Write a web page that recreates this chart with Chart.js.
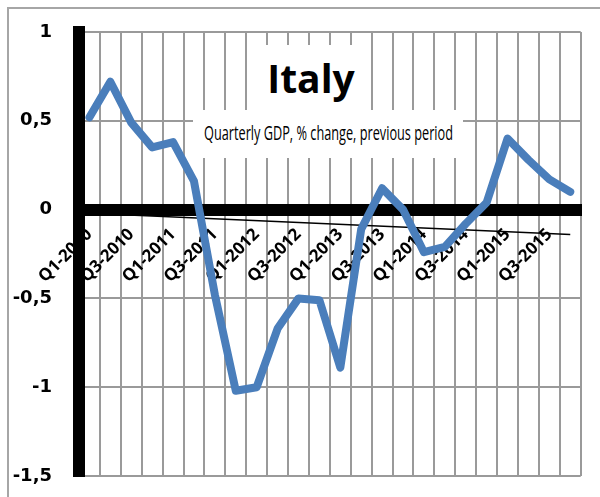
<html>
<head>
  <meta charset="utf-8">
  <title>Italy - Quarterly GDP</title>
  <script src="https://cdn.jsdelivr.net/npm/chart.js"></script>
  <style>
    html, body {
      margin: 0;
      padding: 0;
      background: white;
      overflow: hidden;
    }
    #wrap {
      position: relative;
      width: 600px;
      height: 497px;
    }
    #frame {
      position: absolute;
      left: 7px;
      top: 7px;
      width: 620px;
      height: 520px;
      border: 2px solid #a6a6a6;
    }
    canvas {
      position: absolute;
      left: 0;
      top: 0;
    }
    .box {
      position: absolute;
      background: white;
      white-space: nowrap;
    }
    #title {
      left: 256px;
      top: 45px;
      width: 110px;
      height: 65px;
      font-family: 'Open Sans', sans-serif;
      font-weight: bold;
      font-size: 39px;
      text-align: center;
      line-height: 65px;
    }
    #subtitle {
      left: 193px;
      top: 110px;
      width: 270px;
      height: 48px;
    }
    #subtitle span {
      position: absolute;
      left: 11px;
      top: 9px;
      font-family: 'Open Sans', sans-serif;
      font-size: 20px;
      transform-origin: 0 0;
    }
  </style>
</head>
<body>
<div id="wrap">
  <div id="frame"></div>
  <canvas id="chart" width="600" height="497"></canvas>
  <div class="box" id="title">Italy</div>
  <div class="box" id="subtitle"><span>Quarterly GDP, % change, previous period</span></div>
</div>

<script>
const quarters = [
  'Q1-2010', 'Q2-2010', 'Q3-2010', 'Q4-2010',
  'Q1-2011', 'Q2-2011', 'Q3-2011', 'Q4-2011',
  'Q1-2012', 'Q2-2012', 'Q3-2012', 'Q4-2012',
  'Q1-2013', 'Q2-2013', 'Q3-2013', 'Q4-2013',
  'Q1-2014', 'Q2-2014', 'Q3-2014', 'Q4-2014',
  'Q1-2015', 'Q2-2015', 'Q3-2015', 'Q4-2015'
];
const gdpChange = [
  0.52, 0.72, 0.49, 0.35,
  0.38, 0.16, -0.48, -1.02,
  -1.00, -0.67, -0.50, -0.51,
  -0.89, -0.11, 0.12, 0.00,
  -0.24, -0.21, -0.08, 0.04,
  0.40, 0.28, 0.17, 0.10
];
// trend line, read at its two ends
const trendQuarters = ['Q1-2010', 'Q4-2015'];
const trendValues = [-0.02, -0.14];

const yTicks = [-1.5, -1, -0.5, 0, 0.5, 1];

// squeeze the subtitle to the width it has in the picture
const sub = document.querySelector('#subtitle span');
sub.style.transform = 'scaleX(' + (249 / sub.getBoundingClientRect().width) + ')';

new Chart(document.getElementById('chart'), {
  type: 'line',
  data: {
    labels: quarters,
    datasets: [{
      label: 'GDP',
      data: gdpChange,
      borderColor: '#4a7ebb',
      borderWidth: 8,
      borderJoinStyle: 'round',
      borderCapStyle: 'round',
      pointRadius: 0,
      tension: 0
    }, {
      label: 'Trend',
      data: trendQuarters.map((q, i) => ({ x: q, y: trendValues[i] })),
      borderColor: 'black',
      borderWidth: 1.5,
      pointRadius: 0
    }]
  },
  options: {
    responsive: false,
    animation: false,
    events: [],
    layout: { padding: { top: 32, bottom: 21, right: 15, left: 0 } },
    plugins: {
      legend: { display: false },
      tooltip: { enabled: false }
    },
    scales: {
      x: {
        position: { y: 0 },
        offset: true,
        afterFit: s => { s.height = 0; },
        grid: { offset: true, color: '#9a9a9a', lineWidth: 2, drawTicks: false },
        border: { display: true, color: 'black', width: 12 },
        ticks: {
          autoSkip: false,
          minRotation: 45,
          maxRotation: 45,
          padding: 15,
          color: 'black',
          font: { family: 'Open Sans', weight: 'bold', size: 17 },
          callback: function (v, i) { return i % 2 === 0 ? this.getLabelForValue(v) : ''; }
        }
      },
      y: {
        min: -1.5,
        max: 1,
        afterFit: s => { s.width = 79; s.paddingTop = 0; s.paddingBottom = 0; },
        afterBuildTicks: s => { s.ticks = yTicks.map(v => ({ value: v })); },
        grid: {
          color: c => c.tick && c.tick.value === 0 ? 'rgba(0,0,0,0)' : '#9a9a9a',
          lineWidth: 2,
          drawTicks: false
        },
        border: { display: true, color: 'black', width: 12 },
        ticks: {
          padding: 27,
          color: 'black',
          font: { family: 'DejaVu Sans', weight: 'bold', size: 18 },
          callback: v => String(v).replace('.', ',')
        }
      }
    }
  }
});
</script>
</body>
</html>
